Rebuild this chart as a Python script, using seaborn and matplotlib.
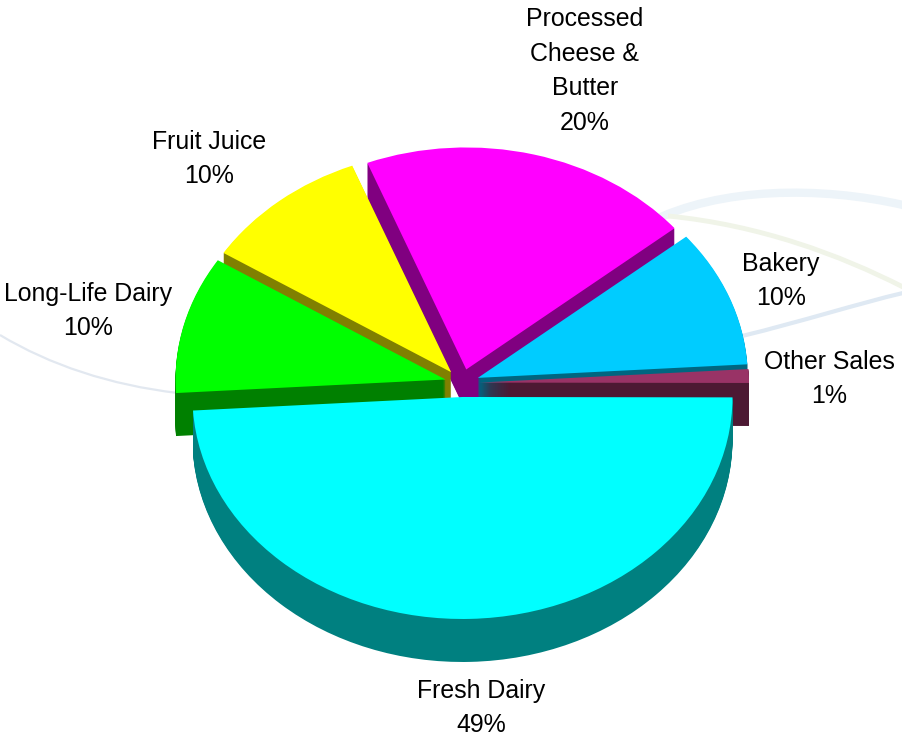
import matplotlib
matplotlib.use("Agg")
import matplotlib.pyplot as plt
import matplotlib.path as mpath
from matplotlib.patches import PathPatch
from matplotlib.transforms import Affine2D
import seaborn as sns

sns.set_theme(style="white")
plt.rcParams["font.family"] = ["Liberation Sans", "DejaVu Sans"]

# Sales share by product group, counter-clockwise from the right-hand side
categories = ["Other Sales", "Bakery", "Processed\nCheese &\nButter",
              "Fruit Juice", "Long-Life Dairy", "Fresh Dairy"]
shares = [1, 10, 20, 10, 10, 49]

top_colors = ["#993366", "#00CCFF", "#FF00FF", "#FFFF00", "#00FF00", "#00FFFF"]
side_colors = ["#4D1933", "#006680", "#800080", "#808000", "#008000", "#008080"]
draw_rank = [5, 2, 1, 3, 4, 6]   # back-to-front stacking of the slices

label_x = [829, 781, 585, 209, 88, 481]
label_y = [379, 281, 71, 159, 311, 708]

WIDTH, HEIGHT = 903, 736
CENTER_X, CENTER_Y = 462, 383
RADIUS_X, RADIUS_Y = 270, 222
DEPTH = 43
START_ANGLE = 359.9
EXPLODE = 0.063

fig = plt.figure(figsize=(WIDTH / 100, HEIGHT / 100), dpi=100, facecolor="white")
ax = fig.add_axes([0, 0, 1, 1])
explode = [EXPLODE] * len(shares)

# Extruded rim: a stack of dark pies, one pixel apart
for step in range(DEPTH, 0, -1):
    wedges, _ = ax.pie(shares, colors=side_colors, explode=explode,
                       startangle=START_ANGLE, center=(0, -step / RADIUS_Y),
                       wedgeprops={"linewidth": 0})
    for wedge, rank in zip(wedges, draw_rank):
        wedge.set_zorder(rank * 2 + 2)

# Top faces
wedges, _ = ax.pie(shares, colors=top_colors, explode=explode,
                   startangle=START_ANGLE, wedgeprops={"linewidth": 0})
for wedge, rank in zip(wedges, draw_rank):
    wedge.set_zorder(rank * 2 + 3)

# The pie resets the aspect, so stretch it to its tilted ellipse here
ax.set_aspect("auto")
ax.set_xlim(-CENTER_X / RADIUS_X, (WIDTH - CENTER_X) / RADIUS_X)
ax.set_ylim((CENTER_Y - HEIGHT) / RADIUS_Y, CENTER_Y / RADIUS_Y)
ax.axis("off")

# Pixel coordinates with the origin at the top-left corner
px = Affine2D().scale(1 / WIDTH, -1 / HEIGHT).translate(0, 1) + fig.transFigure

# Faint decorative swooshes behind the pie
swooshes = [
    ([(650, 222), (720, 187), (820, 186), (903, 205)], "#EDF4F9", 6.0),
    ([(668, 216), (760, 225), (840, 255), (903, 287)], "#F0F4E8", 3.5),
    ([(742, 336), (800, 322), (860, 303), (903, 293)], "#DFE9F3", 3.0),
    ([(0, 335), (50, 365), (110, 385), (178, 393)], "#E2E8F0", 1.6),
]
for points, color, width in swooshes:
    codes = [mpath.Path.MOVETO, mpath.Path.CURVE4, mpath.Path.CURVE4, mpath.Path.CURVE4]
    ax.add_patch(PathPatch(mpath.Path(points, codes), facecolor="none", edgecolor=color,
                           linewidth=width, transform=px, zorder=1, clip_on=False))

# Category labels with their percentages
for name, value, x, y in zip(categories, shares, label_x, label_y):
    ax.text(x, y, f"{name}\n{value}%", transform=px, ha="center", va="center",
            multialignment="center", fontsize=17.9, color="#000000",
            linespacing=1.55, zorder=30)

fig.savefig("out.png", dpi=100, facecolor="white")
